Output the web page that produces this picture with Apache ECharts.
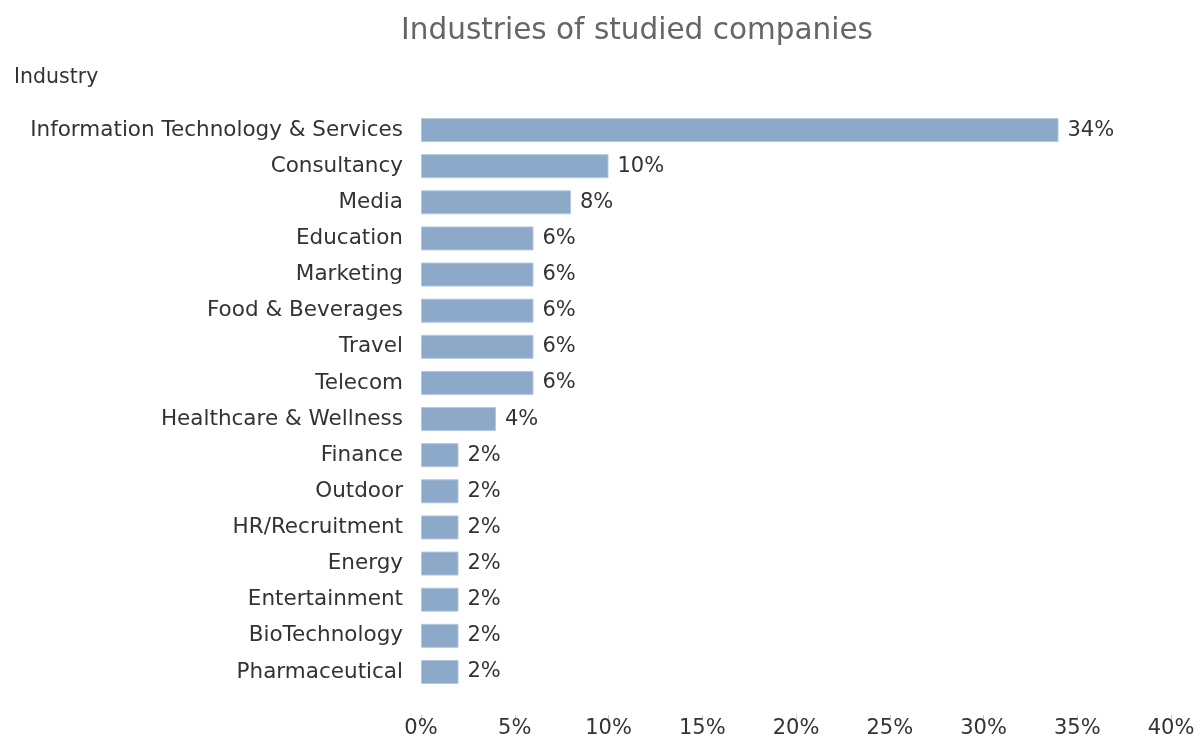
<!DOCTYPE html>
<html>
<head>
<meta charset="utf-8">
<script src="https://cdn.jsdelivr.net/npm/echarts@6/dist/echarts.min.js"></script>
<style>
  html, body { margin: 0; padding: 0; background: #fff; }
  #chart { width: 1203px; height: 742px; }
</style>
</head>
<body>
<div id="chart"></div>
<script>
// Share of studied companies per industry, in percent
const industries = [
  'Information Technology & Services', 'Consultancy', 'Media', 'Education',
  'Marketing', 'Food & Beverages', 'Travel', 'Telecom',
  'Healthcare & Wellness', 'Finance', 'Outdoor', 'HR/Recruitment',
  'Energy', 'Entertainment', 'BioTechnology', 'Pharmaceutical'
];
const shares = [34, 10, 8, 6, 6, 6, 6, 6, 4, 2, 2, 2, 2, 2, 2, 2];
const shareTicks = [0, 5, 10, 15, 20, 25, 30, 35, 40];

const FONT = '"DejaVu Sans", Verdana, sans-serif';
const TEXT_SIZE = 21.5;
const chart = echarts.init(document.getElementById('chart'));

chart.setOption({
  backgroundColor: '#ffffff',
  animation: false,
  title: [
    {
      text: 'Industries of studied companies',
      left: 632, top: 11, textAlign: 'center',
      textStyle: { fontFamily: FONT, fontSize: 29.5, fontWeight: 'normal', color: '#666666' }
    },
    {
      text: 'Industry',
      left: 9, top: 62,
      textStyle: { fontFamily: FONT, fontSize: 20.5, fontWeight: 'normal', color: '#333333' }
    }
  ],
  grid: { left: 421, right: 32, top: 112, bottom: 52, containLabel: false },
  xAxis: {
    type: 'value',
    min: shareTicks[0],
    max: shareTicks[shareTicks.length - 1],
    interval: 5,
    offset: 25,
    axisLine: { show: false },
    axisTick: { show: true, length: 6, lineStyle: { color: '#c8c8c8' } },
    splitLine: { show: false },
    axisLabel: {
      margin: 3,
      fontFamily: FONT, fontSize: 21, color: '#333333',
      formatter: v => v + '%'
    }
  },
  yAxis: {
    type: 'category',
    data: industries,
    inverse: true,
    axisLine: { show: false },
    axisTick: { show: false },
    axisLabel: { margin: 18, fontFamily: FONT, fontSize: TEXT_SIZE, color: '#333333' }
  },
  series: [{
    type: 'bar',
    data: shares,
    barWidth: 24,
    itemStyle: { color: '#8da9ca', borderColor: '#b4c7dd', borderWidth: 1 },
    label: {
      show: true, position: 'right', distance: 9,
      fontFamily: FONT, fontSize: 21, color: '#333333',
      formatter: p => p.value + '%'
    }
  }]
});
</script>
</body>
</html>
